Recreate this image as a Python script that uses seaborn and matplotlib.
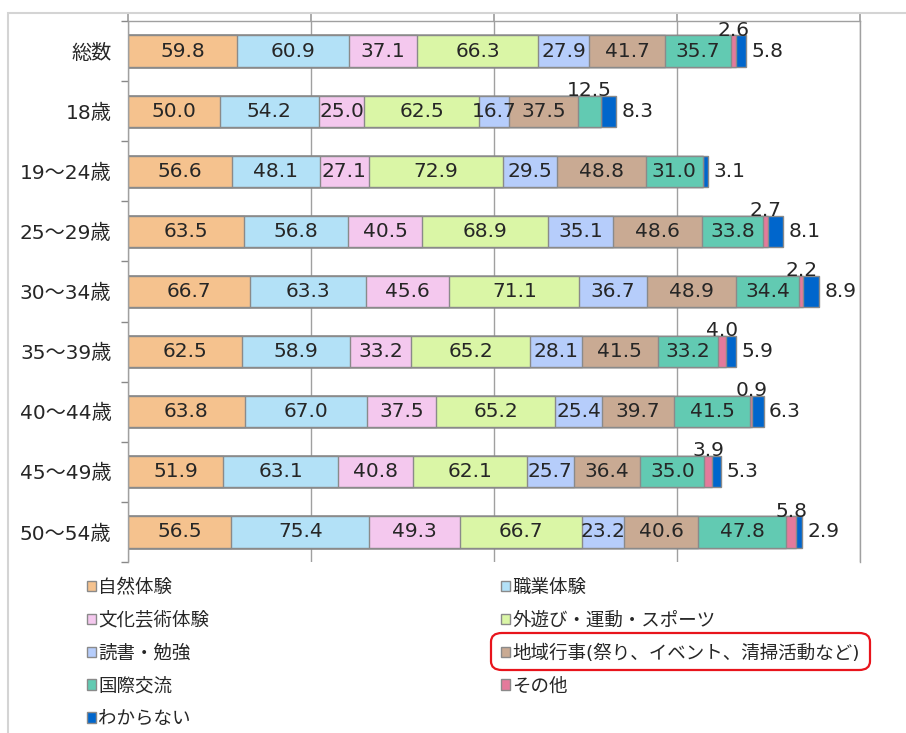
import matplotlib
matplotlib.use("Agg")
import matplotlib.pyplot as plt
from matplotlib.patches import FancyBboxPatch, Rectangle
import seaborn as sns
import numpy as np
import pandas as pd

categories = ["総数", "18歳", "19～24歳", "25～29歳", "30～34歳",
              "35～39歳", "40～44歳", "45～49歳", "50～54歳"]

series_names = ["自然体験", "職業体験", "文化芸術体験", "外遊び・運動・スポーツ", "読書・勉強",
                "地域行事(祭り、イベント、清掃活動など)", "国際交流", "その他", "わからない"]

shizen = [59.8, 50.0, 56.6, 63.5, 66.7, 62.5, 63.8, 51.9, 56.5]
shokugyo = [60.9, 54.2, 48.1, 56.8, 63.3, 58.9, 67.0, 63.1, 75.4]
bunka = [37.1, 25.0, 27.1, 40.5, 45.6, 33.2, 37.5, 40.8, 49.3]
sotoasobi = [66.3, 62.5, 72.9, 68.9, 71.1, 65.2, 65.2, 62.1, 66.7]
dokusho = [27.9, 16.7, 29.5, 35.1, 36.7, 28.1, 25.4, 25.7, 23.2]
chiiki = [41.7, 37.5, 48.8, 48.6, 48.9, 41.5, 39.7, 36.4, 40.6]
kokusai = [35.7, 12.5, 31.0, 33.8, 34.4, 33.2, 41.5, 35.0, 47.8]
sonota = [2.6, 0.0, 0.0, 2.7, 2.2, 4.0, 0.9, 3.9, 5.8]
wakaranai = [5.8, 8.3, 3.1, 8.1, 8.9, 5.9, 6.3, 5.3, 2.9]

colors = ["#F5C28E", "#B3E1F7", "#F4C8EE", "#DAF6A6", "#B6CDFB",
          "#C9AA93", "#62CAB2", "#E47A9B", "#0066CC"]

values = np.array([shizen, shokugyo, bunka, sotoasobi, dokusho,
                   chiiki, kokusai, sonota, wakaranai])
cum = values.cumsum(axis=0)

sns.set_theme(style="white")
plt.rcParams["font.family"] = ["DejaVu Sans", "Noto Sans CJK JP"]

fig = plt.figure(figsize=(9.06, 7.33), dpi=100)
ax = fig.add_axes([128 / 906, 1 - 562 / 733, (860 - 128) / 906, (562 - 21) / 733])

bar_w = 0.52
# stacked bars: draw cumulative totals from the outermost layer inwards
for k in range(len(series_names) - 1, -1, -1):
    df = pd.DataFrame({"cat": categories, "val": cum[k]})
    sns.barplot(data=df, x="val", y="cat", orient="h", color=colors[k],
                width=bar_w, edgecolor="#8a8a8a", linewidth=1.0,
                saturation=1, ax=ax, label=series_names[k])

handles, labels = ax.get_legend_handles_labels()
if ax.get_legend() is not None:
    ax.get_legend().remove()

for k in range(len(series_names)):
    for i in range(len(categories)):
        v = values[k, i]
        if v <= 0:
            continue
        left = cum[k, i] - v
        txt = f"{v:.1f}"
        if k == len(series_names) - 1:
            ax.text(cum[k, i] + 3, i, txt, ha="left", va="center", fontsize=14.5)
        elif k == 7 or v < 14:
            ax.text(left + v / 2, i - bar_w / 2 + 0.07, txt, ha="center",
                    va="bottom", fontsize=14.5)
        else:
            ax.text(left + v / 2, i, txt, ha="center", va="center", fontsize=14.5)

ax.set_xlim(0, 400)
ax.set_ylim(len(categories) - 0.5, -0.5)
ax.set_xticks([0, 100, 200, 300, 400])
ax.xaxis.tick_top()
ax.tick_params(axis="x", which="major", top=True, length=5, color="#a0a0a0",
               labeltop=False, labelbottom=False)
ax.grid(axis="x", color="#a0a0a0", linewidth=1)
ax.set_axisbelow(True)
ax.set_yticks(range(len(categories)))
ax.set_yticklabels(categories, fontsize=14.5)
ax.set_yticks(np.arange(-0.5, len(categories), 1), minor=True)
ax.tick_params(axis="y", which="major", length=0, pad=12)
ax.tick_params(axis="y", which="minor", left=True, length=5, color="#888888")
ax.set_xlabel("")
ax.set_ylabel("")
ax.spines["bottom"].set_visible(False)
for side in ["top", "left", "right"]:
    ax.spines[side].set_color("#a0a0a0")
    ax.spines[side].set_linewidth(1)

lookup = dict(zip(labels, handles))
order = [0, 2, 4, 6, 8, 1, 3, 5, 7]
fig.legend([lookup[series_names[j]] for j in order],
           [series_names[j] for j in order],
           ncol=2, loc="upper left", bbox_to_anchor=(70 / 906, 1 - 562 / 733),
           frameon=False, fontsize=13.3, handlelength=0.5, handleheight=0.5,
           handletextpad=0.12, labelspacing=0.8, columnspacing=15.8)

# outer chart frame and highlight box
fig.patches.append(Rectangle((8 / 906, -0.05), 1.1, 1.05 - 13 / 733,
                             transform=fig.transFigure, fill=False,
                             edgecolor="#d4d4d4", linewidth=1.5))
fig.patches.append(FancyBboxPatch((491 / 906, 1 - 670 / 733), 379 / 906, 37 / 733,
                                  boxstyle="round,pad=0,rounding_size=0.012",
                                  transform=fig.transFigure, fill=False,
                                  edgecolor="#E8141C", linewidth=1.6))

fig.savefig("out.png", dpi=100)
